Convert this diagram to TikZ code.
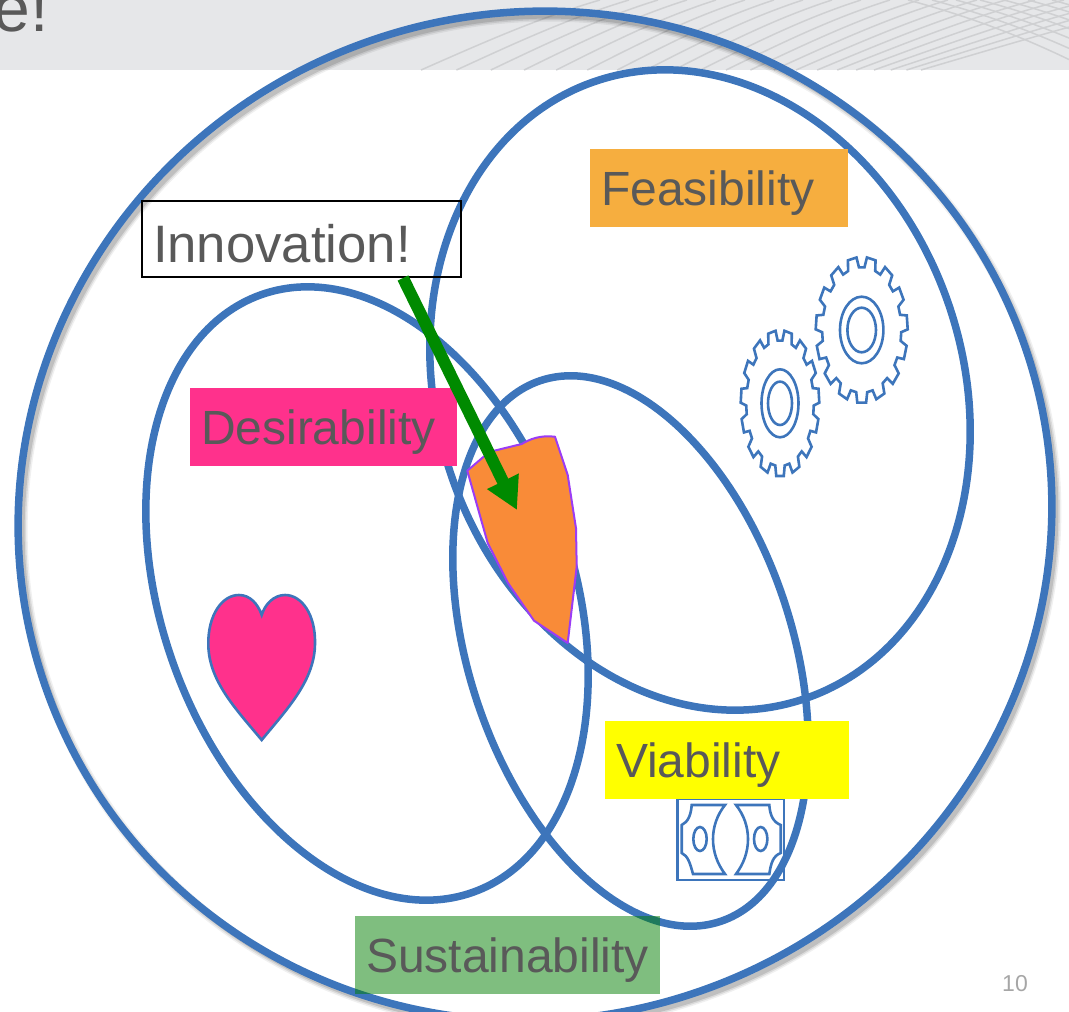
\documentclass[tikz,border=0pt]{standalone}
\usepackage{fontspec}
\setmainfont{Liberation Sans}
\usetikzlibrary{arrows.meta,shapes.geometric}
\definecolor{ringblue}{HTML}{3D75BB}
\definecolor{textgrey}{HTML}{595959}
\definecolor{headgrey}{HTML}{E6E7E9}
\definecolor{gridgrey}{HTML}{CFD0D2}
\definecolor{heartpink}{HTML}{FF318C}
\definecolor{viayellow}{HTML}{FFFF00}

\begin{document}
\begin{tikzpicture}[x=1pt,y=-1pt]
    \tikzset{ring/.style = {shape=ellipse, draw=ringblue, line width=7.5pt, inner sep=0pt, outer sep=0pt}}
    \tikzset{tag/.style = {font=\fontsize{48}{50}\selectfont, text=textgrey, align=left, inner xsep=11pt, inner ysep=0pt, minimum height=78pt, text height=41pt, text depth=6pt}}
    \tikzset{icon/.style = {draw=ringblue, line width=2.6pt}}
    \tikzset{flow/.style = {draw={rgb,255:red,0;green,138;blue,0}, line width=12pt, -{Triangle[length=32pt,width=33pt]}}}
    \useasboundingbox (0,0) rectangle (1069,1012);

    % header
    \fill[headgrey] (0,0) rectangle (1069,70);
    \begin{scope}
        \clip (0,0) rectangle (1069,70);
        \foreach \k [evaluate=\k as \b using 421+36*\k-0.55*\k*\k, evaluate=\k as \t using 600+29*\k] in {0,...,20}
            \draw[gridgrey, line width=1.5pt] (\b,70) .. controls (\b*0.6+\t*0.4-8,42) and (\b*0.3+\t*0.7-8,18) .. (\t,0);
        \foreach \k in {0,...,7}
            \draw[gridgrey, line width=1.5pt] (908+24*\k,0) .. controls (960+24*\k,14) and (1020+24*\k,34) .. (1090+24*\k,70);
    \end{scope}
    \node[anchor=base east, font=\fontsize{66}{68}\selectfont, text=textgrey, inner sep=0pt] (title) at (49,31) {e!};

    % rings
    \foreach \w/\o in {11/0.06,8/0.09,5/0.12}
        \node[ring, draw=black, line width=\w pt, opacity=\o, minimum width=1037pt, minimum height=1006pt, rotate=19.7] at (539,521) {};
    \node[ring, minimum width=1037pt, minimum height=1006pt, rotate=19.7] (whole) at (535,516) {};
    \node[ring, minimum width=652pt, minimum height=526pt, rotate=-71.3] (feasring) at (700,390) {};
    \node[ring, minimum width=634pt, minimum height=412pt, rotate=-70.5] (desring) at (367,593.5) {};
    \node[ring, minimum width=570pt, minimum height=323pt, rotate=-71.6] (viaring) at (630.5,651) {};

    % heart
    \draw[icon, fill=heartpink] (261.7,740) .. controls (235,708) and (208,680) .. (208.3,643)
        .. controls (208.3,615) and (222,595) .. (239,595)
        .. controls (250,595) and (258,604) .. (261.7,615)
        .. controls (265,604) and (274,595) .. (285,595)
        .. controls (302,595) and (315.5,615) .. (315,643)
        .. controls (315,680) and (288,708) .. (261.7,740) -- cycle;

    % gears
    \foreach \cx/\cy/\rx/\ry/\ax/\ay/\bx/\by in {780/403.3/39.3/73/18.5/34/12/21.7, 861.7/330/46/73/21.7/33.3/14.3/22.3} {
        \begin{scope}[shift={(\cx,\cy)}, xscale=\rx, yscale=\ry]
            \draw[icon] (82:0.86)
                \foreach \k [evaluate=\k as \a using 90+\k*360/15] in {0,...,14} {
                    -- (\a-8:0.86) -- (\a-5.5:1) -- (\a+5.5:1) -- (\a+8:0.86)
                } -- cycle;
        \end{scope}
        \draw[icon] (\cx,\cy) ellipse [x radius=\ax, y radius=\ay];
        \draw[icon] (\cx,\cy) ellipse [x radius=\bx, y radius=\by];
    }

    % banknote
    \draw[icon] (677.5,799) rectangle (784,880);
    \draw[icon] (691.7,805) -- (725,805) .. controls (709,825) and (709,853) .. (725,874) -- (693,874)
        .. controls (690,863) and (688,856) .. (681.7,853) -- (681.7,825) .. controls (688,822) and (691,815) .. (691.7,805) -- cycle;
    \draw[icon] (769.3,805) -- (736,805) .. controls (752,825) and (752,853) .. (736,874) -- (769.3,874)
        .. controls (771,863) and (773,856) .. (780.7,853) -- (780.7,825) .. controls (773,822) and (770,815) .. (769.3,805) -- cycle;
    \draw[icon] (700,839) ellipse [x radius=6.7, y radius=12];
    \draw[icon] (760.7,839) ellipse [x radius=6.7, y radius=12];

    % overlap
    \draw[draw={rgb,255:red,155;green,60;blue,245}, line width=2pt, fill={rgb,255:red,249;green,139;blue,56}, line join=round]
        (467.3,470.7) -- (483.3,457) -- (493,451) -- (521.7,444) .. controls (530,439) and (540,435) .. (555,436.7)
        -- (567.7,475) -- (576,528.3) -- (576.7,566.7) -- (567.7,643) -- (534,620.7) -- (508,583) -- (487.7,543) -- cycle;

    % labels
    \node[tag, fill={rgb,255:red,246;green,174;blue,63}, text width=236pt] (feas) at (719,188) {Feasibility};
    \node[tag, fill=heartpink, text width=245pt] (des) at (323.5,427) {Desirability};
    \node[tag, fill=viayellow, text width=222pt] (via) at (727,760) {Viability};
    \node[tag, fill={rgb,255:red,0;green,125;blue,0}, fill opacity=0.5, text opacity=1, text width=283pt] (sus) at (507.5,955) {Sustainability};
    \node[tag, draw=black, line width=2pt, font=\fontsize{52.7}{54}\selectfont, minimum height=76pt, text width=297pt, text height=52pt, text depth=5pt] (innov) at (301.5,239) {Innovation!};
    \node[font=\fontsize{23}{25}\selectfont, text={rgb,255:red,166;green,166;blue,166}, inner sep=0pt] (page) at (1015,984) {10};

    % arrow
    \coordinate (spot) at (517,510);
    \draw[flow] ([xshift=-59pt]innov.south east) -- (spot);
\end{tikzpicture}
\end{document}
